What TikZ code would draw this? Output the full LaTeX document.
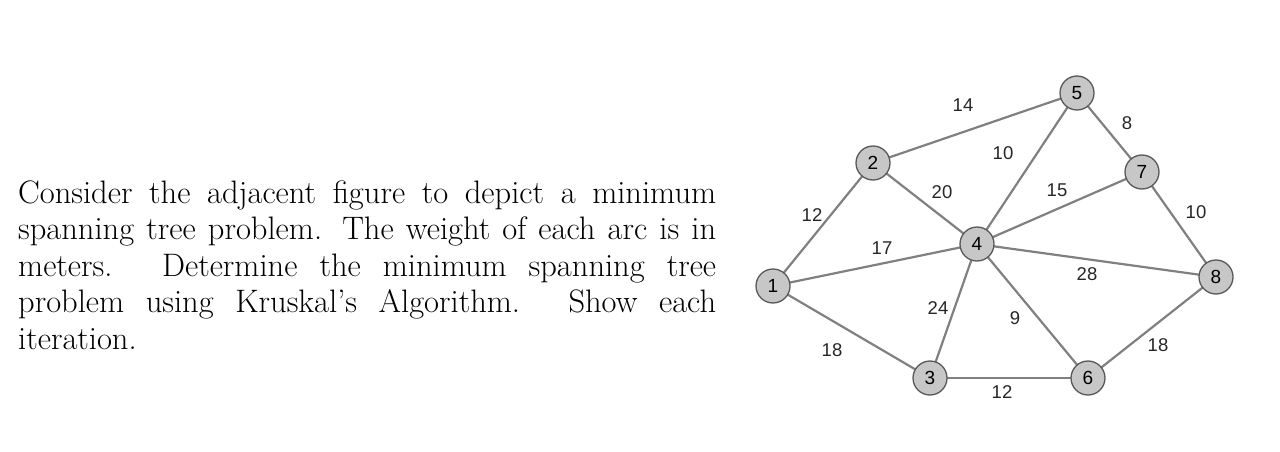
\documentclass[tikz,border=0pt]{standalone}
\usepackage{fontspec}
\newfontfamily\lab{Liberation Sans}
\begin{document}
\begin{tikzpicture}[x=1pt,y=-1pt,
  vtx/.style={circle,draw=black!65,line width=1.3pt,fill=black!22,minimum size=34pt,inner sep=0pt,font=\lab\fontsize{19}{19}\selectfont},
  edg/.style={draw=black!50,line width=2.2pt},
  wt/.style={font=\lab\fontsize{18.5}{18.5}\selectfont,text=black!85}]
\useasboundingbox (0,0) rectangle (1280,452);
\node[anchor=north west,inner sep=0pt,align=justify,text width=698pt,font=\fontsize{32.5}{36.5}\selectfont] (txt) at (18,180)
{Consider the adjacent figure to depict a minimum\linebreak spanning tree problem. The weight of each arc is in\linebreak meters. Determine the minimum spanning tree\linebreak problem using Kruskal's Algorithm. Show each\linebreak iteration.};
\coordinate (p1) at (773,286);
\coordinate (p2) at (873,163);
\coordinate (p3) at (930,378);
\coordinate (p4) at (977,244);
\coordinate (p5) at (1077,93);
\coordinate (p6) at (1088,378);
\coordinate (p7) at (1142,172);
\coordinate (p8) at (1216,277);
\foreach \a/\b in {1/2,1/4,1/3,2/5,2/4,4/5,4/7,4/8,4/3,4/6,3/6,5/7,7/8,6/8}
  \draw[edg] (p\a) -- (p\b);
\foreach \i in {1,...,8} \node[vtx] (n\i) at (p\i) {\i};
\node[wt] (w1) at (963,105) {14};
\node[wt] (w2) at (1003,153) {10};
\node[wt] (w3) at (1127,123) {8};
\node[wt] (w4) at (942,192) {20};
\node[wt] (w5) at (1057,190) {15};
\node[wt] (w6) at (812,215) {12};
\node[wt] (w7) at (1196,212) {10};
\node[wt] (w8) at (882,248) {17};
\node[wt] (w9) at (1087,274) {28};
\node[wt] (w10) at (938,308) {24};
\node[wt] (w11) at (1015,318) {9};
\node[wt] (w12) at (832,350) {18};
\node[wt] (w13) at (1158,345) {18};
\node[wt] (w14) at (1002,392) {12};
\end{tikzpicture}
\end{document}
